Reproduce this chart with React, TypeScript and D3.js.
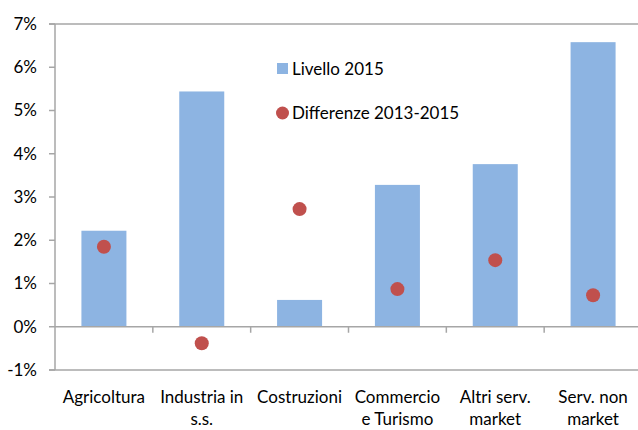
import React from "react";
import * as d3 from "d3";

// data
const categories = [
  "Agricoltura",
  "Industria in\ns.s.",
  "Costruzioni",
  "Commercio\ne Turismo",
  "Altri serv.\nmarket",
  "Serv. non\nmarket",
];
const livello2015 = [2.22, 5.44, 0.62, 3.28, 3.76, 6.58];
const differenze = [1.85, -0.38, 2.72, 0.87, 1.54, 0.73];
const yTicks = [-1, 0, 1, 2, 3, 4, 5, 6, 7];
const seriesNames = ["Livello 2015", "Differenze 2013-2015"];

const W = 638;
const H = 430;
const FONT = "Lato, 'Noto Sans', sans-serif";
const AXIS = "#a6a6a6";
const FS = 17;

const App = () => {
  const left = 55;
  const right = 642;
  const y = d3.scaleLinear().domain([-1, 7]).range([370, 24]);
  const x = d3
    .scaleBand()
    .domain(categories)
    .range([left, right])
    .paddingInner(0.54)
    .paddingOuter(0.27);
  const step = x.step();

  return (
    <svg
      width={W}
      height={H}
      style={{ position: "absolute", left: 0, top: 0, background: "#fff" }}
      fontFamily={FONT}
    >
      {/* bars */}
      {categories.map((c, i) => (
        <rect
          key={c}
          x={x(c)}
          y={y(Math.max(0, livello2015[i]))}
          width={x.bandwidth()}
          height={Math.abs(y(livello2015[i]) - y(0))}
          fill="#8db4e2"
        />
      ))}

      {/* frame lines */}
      <line x1={49} x2={W} y1={y(7)} y2={y(7)} stroke={AXIS} strokeWidth={1.5} />
      <line x1={49} x2={W} y1={y(-1)} y2={y(-1)} stroke={AXIS} strokeWidth={1.5} />
      <line x1={left} x2={left} y1={y(7)} y2={y(-1)} stroke={AXIS} strokeWidth={1.5} />
      <line x1={left} x2={W} y1={y(0)} y2={y(0)} stroke={AXIS} strokeWidth={1.5} />

      {/* y ticks and labels */}
      {yTicks.map((t) => (
        <g key={t}>
          <line x1={49} x2={left} y1={y(t)} y2={y(t)} stroke={AXIS} strokeWidth={1.5} />
          <text
            x={37}
            y={y(t)}
            dy="0.35em"
            textAnchor="end"
            fontSize={FS}
            fill="#000"
          >
            {`${t}%`}
          </text>
        </g>
      ))}

      {/* category ticks on zero line */}
      {categories.slice(1).map((c) => (
        <line
          key={c}
          x1={(x(c) as number) - step * 0.27}
          x2={(x(c) as number) - step * 0.27}
          y1={y(0)}
          y2={y(0) + 6}
          stroke={AXIS}
          strokeWidth={1.5}
        />
      ))}

      {/* dots */}
      {categories.map((c, i) => (
        <circle
          key={c}
          cx={(x(c) as number) + x.bandwidth() / 2}
          cy={y(differenze[i])}
          r={7}
          fill="#c0504d"
        />
      ))}

      {/* category labels */}
      {categories.map((c) => (
        <text
          key={c}
          x={(x(c) as number) + x.bandwidth() / 2}
          y={403}
          textAnchor="middle"
          fontSize={FS}
          fill="#000"
        >
          {c.split("\n").map((line, j) => (
            <tspan key={j} x={(x(c) as number) + x.bandwidth() / 2} dy={j === 0 ? 0 : 22}>
              {line}
            </tspan>
          ))}
        </text>
      ))}

      {/* legend */}
      <rect x={277} y={63} width={11} height={11} fill="#8db4e2" />
      <text x={292} y={75} fontSize={FS} fill="#000">
        {seriesNames[0]}
      </text>
      <circle cx={282.5} cy={113} r={6.5} fill="#c0504d" />
      <text x={292} y={119} fontSize={FS} fill="#000">
        {seriesNames[1]}
      </text>
    </svg>
  );
};

export default App;
